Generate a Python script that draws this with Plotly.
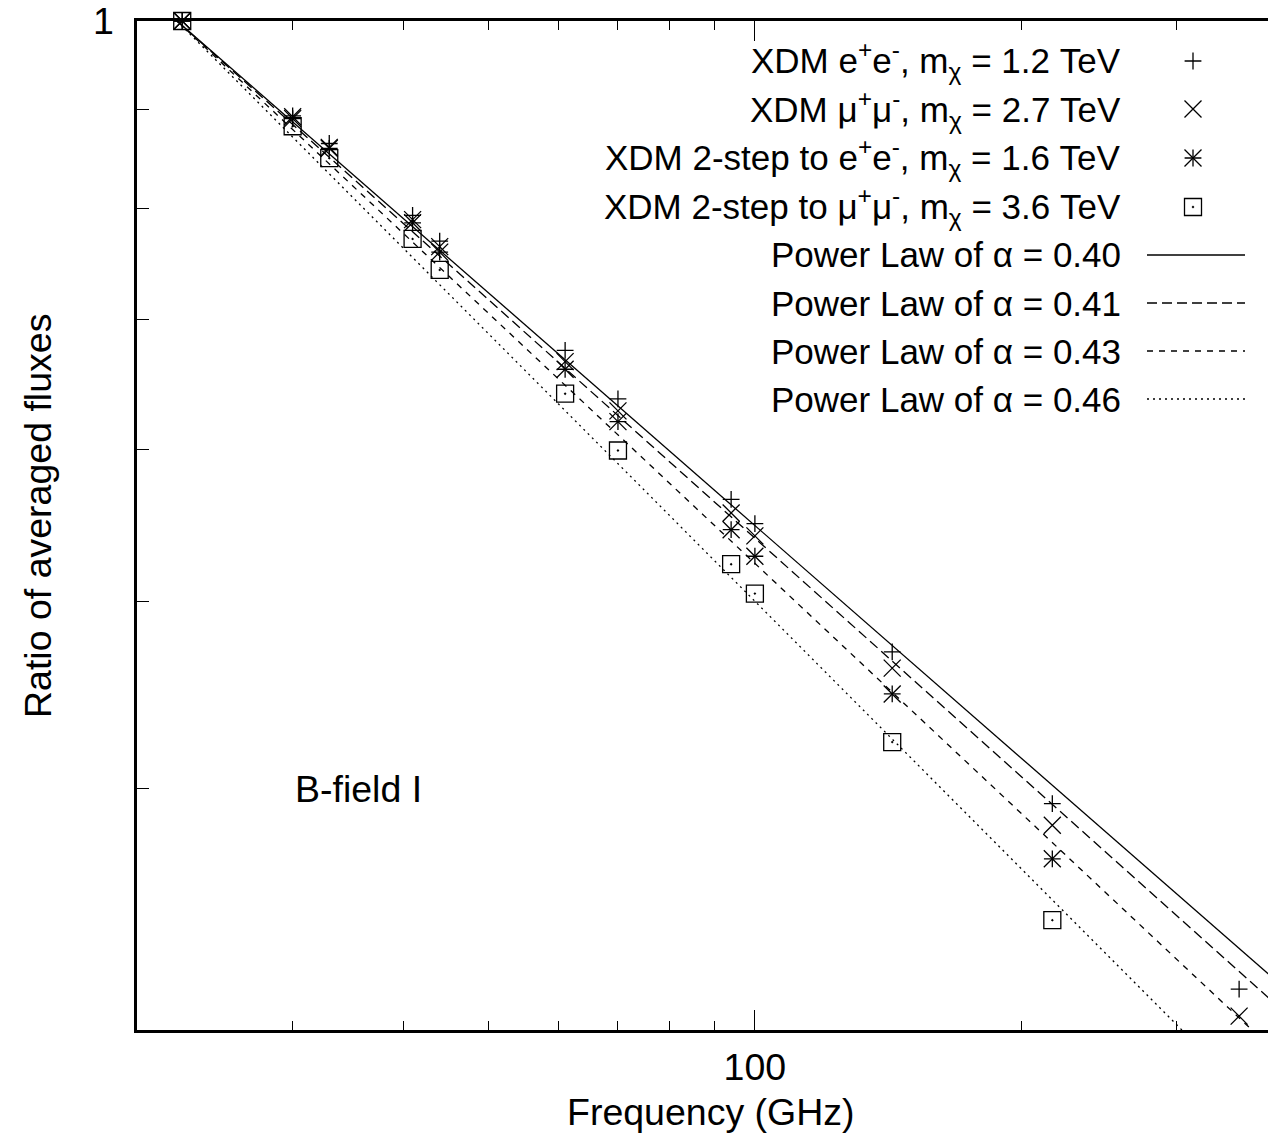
import numpy as np
import plotly.graph_objects as go

# ---- data -------------------------------------------------------------
freq_ghz = [22.5, 30, 33, 41, 44, 61, 70, 94, 100, 143, 217, 353]
ratio_ee = [1.0, 0.893, 0.864, 0.793, 0.769, 0.675, 0.637, 0.565, 0.549, 0.471, 0.393, 0.315]
ratio_mumu = [1.0, 0.892, 0.860, 0.789, 0.764, 0.666, 0.628, 0.556, 0.541, 0.462, 0.383, 0.305]
ratio_2step_ee = [1.0, 0.890, 0.859, 0.786, 0.759, 0.660, 0.620, 0.545, 0.528, 0.448, 0.368, None]
ratio_2step_mumu = [1.0, 0.882, 0.849, 0.771, 0.743, 0.641, 0.599, 0.523, 0.505, 0.423, 0.342, None]

alphas = [0.40, 0.41, 0.43, 0.46]
alpha_labels = ["0.40", "0.41", "0.43", "0.46"]
f_norm = 22.2  # frequency at which the power laws equal 1

series_labels = [
    "XDM e<sup>+</sup>e<sup>-</sup>, m<sub>χ</sub> = 1.2 TeV",
    "XDM μ<sup>+</sup>μ<sup>-</sup>, m<sub>χ</sub> = 2.7 TeV",
    "XDM 2-step to e<sup>+</sup>e<sup>-</sup>, m<sub>χ</sub> = 1.6 TeV",
    "XDM 2-step to μ<sup>+</sup>μ<sup>-</sup>, m<sub>χ</sub> = 3.6 TeV",
]

x_major = [100]
x_minor = [30, 40, 50, 60, 70, 80, 90, 200, 300]
y_major = [1]
y_minor = [0.9, 0.8, 0.7, 0.6, 0.5, 0.4]

# ---- layout geometry --------------------------------------------------
W, H = 1268, 1136
L, R, T, B = 137, 0, 21, 106
PW, PH = W - L - R, H - T - B
FONT = "Liberation Sans, Arial, Helvetica, sans-serif"
FS_KEY = 35
FS = 37.5


def paper_x(px):
    return (px - L) / PW


def paper_y(py):
    return 1 - (py - T) / PH


# marker styles: each series may stack several glyphs (asterisk = plus + cross)
styles = [
    [("cross-thin", 12)],
    [("x-thin", 17)],
    [("cross-thin", 12), ("x-thin", 17)],
    [("square-open-dot", 17)],
]
dashes = ["solid", "10px,5px", "6px,6px", "2px,4px"]


def marker_style(sym, size):
    return dict(symbol=sym, size=size, color="black",
                line=dict(color="black", width=1.3))


fig = go.Figure()

# power-law reference curves
f_curve = np.geomspace(f_norm, 420, 60)
for a, d in zip(alphas, dashes):
    fig.add_trace(go.Scatter(
        x=f_curve, y=(f_curve / f_norm) ** (-a), mode="lines",
        line=dict(color="black", width=1.3, dash=d),
        showlegend=False, hoverinfo="skip"))

# simulated flux ratios
for vals, st in zip([ratio_ee, ratio_mumu, ratio_2step_ee, ratio_2step_mumu], styles):
    for sym, size in st:
        fig.add_trace(go.Scatter(
            x=freq_ghz, y=vals, mode="markers", cliponaxis=False,
            marker=marker_style(sym, size), showlegend=False))

# ---- key (top right) --------------------------------------------------
row_py = [61, 109, 158, 207, 255, 303, 351, 399]
text_right_px = 1123
marker_px = 1193
line_px = (1147, 1245)

annotations = []
for i, lab in enumerate(series_labels):
    annotations.append(dict(
        xref="paper", yref="paper", x=paper_x(text_right_px), y=paper_y(row_py[i]),
        text=lab, showarrow=False, xanchor="right", yanchor="middle",
        font=dict(family=FONT, size=FS_KEY, color="black")))
    for sym, size in styles[i]:
        fig.add_trace(go.Scatter(
            x=[paper_x(marker_px)], y=[paper_y(row_py[i])], xaxis="x2", yaxis="y2",
            mode="markers", cliponaxis=False, marker=marker_style(sym, size),
            showlegend=False, hoverinfo="skip"))

shapes = []
for j, (lab, d) in enumerate(zip(alpha_labels, dashes)):
    r = row_py[4 + j]
    annotations.append(dict(
        xref="paper", yref="paper", x=paper_x(text_right_px), y=paper_y(r),
        text=f"Power Law of α = {lab}", showarrow=False, xanchor="right", yanchor="middle",
        font=dict(family=FONT, size=FS_KEY, color="black")))
    shapes.append(dict(
        type="line", xref="paper", yref="paper",
        x0=paper_x(line_px[0]), x1=paper_x(line_px[1]), y0=paper_y(r), y1=paper_y(r),
        line=dict(color="black", width=1.3, dash=d)))

# in-plot label
annotations.append(dict(
    x=np.log10(30), y=np.log10(0.4), xref="x", yref="y", text="B-field I",
    showarrow=False, xanchor="left", yanchor="middle",
    font=dict(family=FONT, size=FS, color="black")))

# axis titles
annotations.append(dict(
    xref="paper", yref="paper", x=paper_x(711), y=paper_y(1112), text="Frequency (GHz)",
    showarrow=False, xanchor="center", yanchor="middle",
    font=dict(family=FONT, size=FS, color="black")))
annotations.append(dict(
    xref="paper", yref="paper", x=paper_x(38), y=paper_y(516), text="Ratio of averaged fluxes",
    showarrow=False, xanchor="center", yanchor="middle", textangle=-90,
    font=dict(family=FONT, size=FS, color="black")))

x_lo = np.log10(20)
x_hi = x_lo + PW / 884.0

fig.update_layout(
    width=W, height=H, autosize=False,
    margin=dict(l=L, r=R, t=T, b=B, pad=0),
    paper_bgcolor="white", plot_bgcolor="white",
    font=dict(family=FONT, size=FS, color="black"),
    xaxis=dict(
        type="log", range=[x_lo, x_hi], showgrid=False, zeroline=False,
        showline=True, linecolor="black", linewidth=2.5, mirror="ticks",
        ticks="inside", ticklen=20, tickwidth=1.3, tickcolor="black",
        tickvals=x_major, ticktext=[str(v) for v in x_major],
        tickfont=dict(family=FONT, size=FS), ticklabelstandoff=2,
        minor=dict(tickvals=x_minor, ticks="inside", ticklen=9, tickwidth=1.3,
                   tickcolor="black", showgrid=False),
    ),
    yaxis=dict(
        type="log", range=[np.log10(0.3), 0], showgrid=False, zeroline=False,
        showline=True, linecolor="black", linewidth=2.5, mirror=False,
        ticks="inside", ticklen=20, tickwidth=1.3, tickcolor="black",
        tickvals=y_major, ticktext=[str(v) for v in y_major],
        tickfont=dict(family=FONT, size=FS), ticklabelstandoff=13,
        minor=dict(tickvals=y_minor, ticks="inside", ticklen=12, tickwidth=1.3,
                   tickcolor="black", showgrid=False),
    ),
    xaxis2=dict(overlaying="x", range=[0, 1], visible=False, fixedrange=True),
    yaxis2=dict(overlaying="y", range=[0, 1], visible=False, fixedrange=True),
    annotations=annotations,
    shapes=shapes,
    showlegend=False,
)

fig.write_html("out.html")
